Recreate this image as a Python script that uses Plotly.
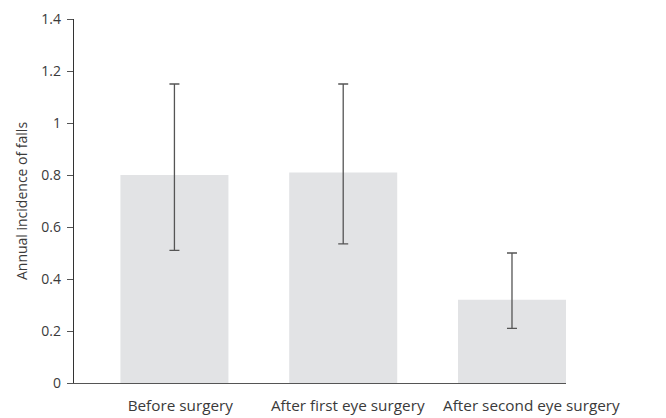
import plotly.graph_objects as go

categories = ["Before surgery", "After first eye surgery", "After second eye surgery"]
incidence = [0.80, 0.81, 0.32]
upper_ci = [1.15, 1.15, 0.50]
lower_ci = [0.51, 0.535, 0.21]

# label centres in the source sit slightly right of the bar centres (category units)
label_positions = [0.035, 1.027, 2.115]

err_plus = [u - v for u, v in zip(upper_ci, incidence)]
err_minus = [v - l for v, l in zip(incidence, lower_ci)]

font_family = "'Open Sans', sans-serif"
text_color = "#3a3a3a"

fig = go.Figure()
fig.add_trace(go.Bar(
    x=list(range(len(categories))),
    y=incidence,
    hovertext=categories,
    marker=dict(color="#e2e3e5", line=dict(width=0)),
    width=0.64,
    error_y=dict(
        type="data",
        symmetric=False,
        array=err_plus,
        arrayminus=err_minus,
        color="#555555",
        thickness=1.3,
        width=5,
    ),
))

# page body has an 8px default margin, so margins are offset by 8px
fig.update_layout(
    width=666,
    height=418,
    margin=dict(l=66, r=108, t=11, b=43),
    paper_bgcolor="white",
    plot_bgcolor="white",
    showlegend=False,
    font=dict(family=font_family, size=15, color=text_color),
    xaxis=dict(
        type="linear",
        range=[-0.595, 2.32],
        automargin=False,
        showline=True,
        linecolor="#555555",
        linewidth=1.3,
        ticks="",
        showgrid=False,
        zeroline=False,
        tickmode="array",
        tickvals=label_positions,
        ticktext=categories,
        ticklabelstandoff=8,
        tickfont=dict(size=15.3, color=text_color),
    ),
    yaxis=dict(
        range=[0, 1.4],
        automargin=False,
        tickvals=[0, 0.2, 0.4, 0.6, 0.8, 1, 1.2, 1.4],
        ticktext=["0", "0.2", "0.4", "0.6", "0.8", "1", "1.2", "1.4"],
        showline=True,
        linecolor="#333333",
        linewidth=1.3,
        ticks="outside",
        ticklen=6,
        tickwidth=1.2,
        tickcolor="#555555",
        showgrid=False,
        zeroline=False,
        ticklabelstandoff=3,
        title=dict(text="Annual incidence of falls", font=dict(size=14, color=text_color), standoff=10),
        tickfont=dict(size=14, color=text_color),
    ),
)

fig.write_html("out.html")
